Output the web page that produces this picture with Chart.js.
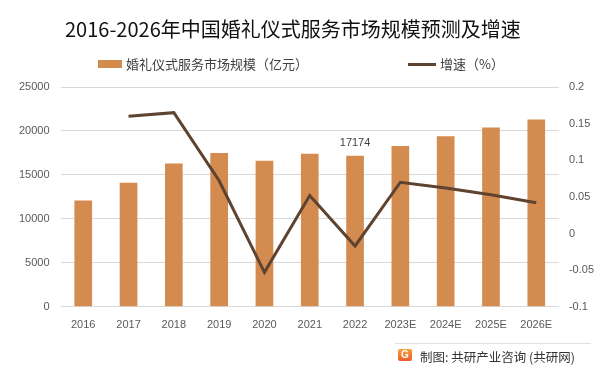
<!DOCTYPE html>
<html>
<head>
<meta charset="utf-8">
<script src="https://cdn.jsdelivr.net/npm/chart.js@4.4.0/dist/chart.umd.min.js"></script>
<style>
    body { margin: 0; background: #fff; }
    #wrap { position: relative; width: 601px; height: 373px; font-family: "Noto Sans CJK SC", "Liberation Sans", sans-serif; }
    #title { position: absolute; left: 65px; top: 16px; font-size: 20px; line-height: 26px; color: #111; white-space: nowrap; }
    .lg { position: absolute; font-size: 13px; line-height: 18px; color: #404040; white-space: nowrap; }
    .sw { position: absolute; }
    #foot-line { position: absolute; left: 395px; top: 343px; width: 196px; height: 1px; background: #e0e0e0; }
    #logo { position: absolute; left: 398px; top: 349px; width: 14px; height: 12px; border-radius: 2px; background: linear-gradient(#f5a03c, #ec5b2a); color: #fff; font: bold 10px/12px "Liberation Sans", sans-serif; text-align: center; }
    #foot { position: absolute; left: 420px; top: 348px; font-size: 12.5px; line-height: 18px; color: #333; white-space: nowrap; }
</style>
</head>
<body>
<div id="wrap">
    <canvas id="ourChart" width="601" height="373"></canvas>
    <div id="title">2016-2026年中国婚礼仪式服务市场规模预测及增速</div>
    <div class="sw" style="left:98px; top:60px; width:24px; height:8px; background:#d48b4f;"></div>
    <div class="lg" style="left:126px; top:55px;">婚礼仪式服务市场规模（亿元）</div>
    <div class="sw" style="left:408px; top:63px; width:28px; height:3px; background:#5e4330;"></div>
    <div class="lg" style="left:440px; top:55px;">增速（%）</div>
    <div id="foot-line"></div>
    <div id="logo">G</div>
    <div id="foot">制图: 共研产业咨询 (共研网)</div>
</div>
<script>
// данные графика
const years = ['2016', '2017', '2018', '2019', '2020', '2021', '2022', '2023E', '2024E', '2025E', '2026E'];
const marketSize = [12100, 14100, 16300, 17500, 16600, 17400, 17174, 18300, 19400, 20400, 21300];
const growth = [null, 0.160, 0.165, 0.072, -0.053, 0.052, -0.017, 0.070, 0.062, 0.053, 0.042];
const labelIndex = 6; // подпись над столбиком 2022

const tickFont = { family: '"Liberation Sans", sans-serif', size: 11 };

const barLabel = {
    id: 'barLabel',
    afterDatasetsDraw(chart) {
        let bar = chart.getDatasetMeta(1).data[labelIndex];
        let ctx = chart.ctx;
        ctx.save();
        ctx.font = '11px "Liberation Sans", sans-serif';
        ctx.fillStyle = '#404040';
        ctx.textAlign = 'center';
        ctx.textBaseline = 'bottom';
        ctx.fillText(String(marketSize[labelIndex]), bar.x, bar.y - 7);
        ctx.restore();
    }
};

const chartElement = new Chart(document.getElementById('ourChart'), {
    data: {
        labels: years,
        datasets: [
            {
                type: 'line',
                label: '增速（%）',
                data: growth,
                yAxisID: 'y1',
                borderColor: '#5e4330',
                borderWidth: 3,
                pointRadius: 0,
                tension: 0,
                order: 0
            },
            {
                type: 'bar',
                label: '婚礼仪式服务市场规模（亿元）',
                data: marketSize,
                yAxisID: 'y',
                backgroundColor: '#d48b4f',
                categoryPercentage: 1,
                barPercentage: 0.39,
                order: 1
            }
        ]
    },
    options: {
        responsive: false,
        animation: { duration: 0 },
        layout: { padding: { left: 8, right: -3, top: 87, bottom: 37 } },
        plugins: {
            legend: { display: false },
            title: { display: false },
            tooltip: { enabled: false }
        },
        scales: {
            x: {
                grid: { display: false },
                border: { display: false },
                ticks: { color: '#595959', font: tickFont, padding: 4, maxRotation: 0 }
            },
            y: {
                position: 'left',
                min: 0,
                max: 25000,
                grid: { color: '#d9d9d9', drawTicks: false },
                border: { display: false },
                ticks: {
                    stepSize: 5000,
                    color: '#595959',
                    font: tickFont,
                    padding: 11,
                    callback: v => String(v)
                }
            },
            y1: {
                position: 'right',
                min: -0.1,
                max: 0.2,
                grid: { display: false, drawTicks: false },
                border: { display: false },
                ticks: {
                    stepSize: 0.05,
                    color: '#595959',
                    font: tickFont,
                    padding: 10,
                    callback: v => String(Number(v.toFixed(2)))
                }
            }
        }
    },
    plugins: [barLabel]
});
</script>
</body>
</html>
